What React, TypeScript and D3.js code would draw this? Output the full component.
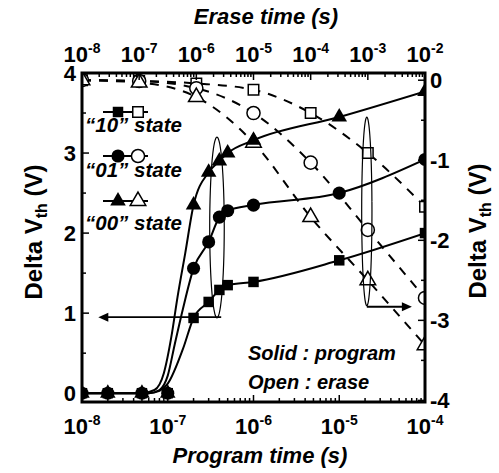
import React from 'react';
import * as d3 from 'd3';

// ---- Program (solid markers, bottom / left axes) ----
const programTimes = [1e-8, 2e-8, 5e-8, 1e-7, 2e-7, 3e-7, 4e-7, 5e-7, 1e-6, 1e-5, 1e-4];
const program10 = [0, 0, 0, 0, 0.94, 1.14, 1.29, 1.35, 1.39, 1.66, 2.0];
const program01 = [0, 0, 0, 0, 1.56, 1.89, 2.2, 2.28, 2.35, 2.5, 2.92];
const program00 = [0, 0, 0, 0, 2.35, 2.76, 2.9, 3.0, 3.16, 3.45, 3.77];

// Fitted program curves
const fit10Times = [1e-8, 6e-8, 8e-8, 1e-7, 1.5e-7, 2e-7, 3e-7, 4e-7, 5e-7, 1e-6, 1e-5, 1e-4];
const fit10Values = [0, 0, 0.03, 0.12, 0.55, 0.94, 1.14, 1.29, 1.35, 1.39, 1.66, 2.0];
const fit01Times = [1e-8, 6e-8, 8e-8, 1e-7, 1.2e-7, 1.5e-7, 2e-7, 3e-7, 4e-7, 5e-7, 1e-6, 1e-5, 1e-4];
const fit01Values = [0, 0, 0.04, 0.22, 0.6, 1.05, 1.56, 1.89, 2.2, 2.28, 2.35, 2.5, 2.92];
const fit00Times = [1e-8, 5e-8, 7e-8, 9e-8, 1.1e-7, 1.3e-7, 1.6e-7, 2e-7, 3e-7, 4e-7, 5e-7, 1e-6, 1e-5, 1e-4];
const fit00Values = [0, 0, 0.04, 0.25, 0.7, 1.2, 1.75, 2.35, 2.76, 2.9, 3.0, 3.16, 3.45, 3.77];

// ---- Erase (open markers, top / right axes) ----
const eraseTimes = [1e-8, 1e-7, 1e-6, 1e-5, 1e-4, 1e-3, 1e-2];
const erase10 = [0, -0.01, -0.04, -0.12, -0.41, -0.91, -1.58];
const erase01 = [0, -0.01, -0.1, -0.41, -1.03, -1.87, -2.72];
const erase00 = [0, -0.03, -0.21, -0.78, -1.71, -2.5, -3.31];

// ---- Axis ticks ----
const programDecades = [-8, -7, -6, -5, -4];
const eraseDecades = [-8, -7, -6, -5, -4, -3, -2];
const leftTicks = [0, 1, 2, 3, 4];
const rightTicks = [0, -1, -2, -3, -4];

const legendLabels = ['\u201C10\u201D state', '\u201C01\u201D state', '\u201C00\u201D state'];

const FONT = '"Liberation Sans", Arial, Helvetica, sans-serif';

export default function App() {
  const L = 82, R = 425, T = 73, B = 402;
  const xProg = d3.scaleLog().domain([1e-8, 1e-4]).range([L, R]);
  const xErase = d3.scaleLog().domain([1e-8, 1e-2]).range([L, R]);
  const yProg = d3.scaleLinear().domain([-0.11, 4]).range([B, T]);
  const yErase = d3.scaleLinear().domain([-4.02, 0.09]).range([B, T]);

  const minor = (decs: number[]) =>
    decs.slice(0, -1).flatMap((e) => d3.range(2, 10).map((k) => k * Math.pow(10, e)));
  const progMinor = minor(programDecades);
  const eraseMinor = minor(eraseDecades);

  const progLine = d3
    .line<[number, number]>()
    .x((d) => xProg(d[0]))
    .y((d) => yProg(d[1]))
    .curve(d3.curveMonotoneX);
  const eraseLine = d3
    .line<[number, number]>()
    .x((d) => xErase(d[0]))
    .y((d) => yErase(d[1]))
    .curve(d3.curveMonotoneX);

  const zip = (a: number[], b: number[]) => a.map((t, i) => [t, b[i]] as [number, number]);

  const symSquare = d3.symbol().type(d3.symbolSquare).size(110)() as string;
  const symCircle = d3.symbol().type(d3.symbolCircle).size(135)() as string;
  const symTriangle = d3.symbol().type(d3.symbolTriangle).size(105)() as string;
  const shapes = [symSquare, symCircle, symTriangle];

  const progSeries = [program10, program01, program00];
  const eraseSeries = [erase10, erase01, erase00];
  const fits = [
    zip(fit10Times, fit10Values),
    zip(fit01Times, fit01Values),
    zip(fit00Times, fit00Values),
  ];

  // Annotation loops (narrow ellipses around each curve group), in data units
  const loopPath = (
    xs: d3.ScaleLogarithmic<number, number>,
    ys: d3.ScaleLinear<number, number>,
    logCenter: number,
    logHalf: number,
    vCenter: number,
    vHalf: number
  ) => {
    const pts = d3.range(0, 361, 6).map((a) => {
      const r = (a * Math.PI) / 180;
      return [xs(Math.pow(10, logCenter + logHalf * Math.cos(r))), ys(vCenter + vHalf * Math.sin(r))] as [number, number];
    });
    return d3.line().curve(d3.curveBasisClosed)(pts) as string;
  };
  const leftLoop = loopPath(xProg, yProg, Math.log10(3.75e-7), 0.085, 2.07, 1.13);
  const rightLoop = loopPath(xErase, yErase, Math.log10(9.6e-4), 0.09, -1.64, 1.18);

  const leftArrowY = yProg(0.95);
  const leftArrowX1 = xProg(4.2e-7);
  const leftArrowX2 = xProg(1.55e-8);
  const rightArrowY = yErase(-2.83);
  const rightArrowX1 = xErase(9.6e-4);
  const rightArrowX2 = xErase(5.9e-3);

  const tickLabel = (exp: number) => (
    <>
      10<tspan fontSize={14} dy={-9}>{exp}</tspan>
    </>
  );

  return (
    <svg
      width={499}
      height={473}
      viewBox="0 0 499 473"
      style={{ position: 'absolute', left: 0, top: 0, background: '#fff' }}
      fontFamily={FONT}
    >
      <defs>
        <clipPath id="plot-clip">
          <rect x={L} y={T} width={R - L} height={B - T} />
        </clipPath>
      </defs>
      <rect x={0} y={0} width={499} height={473} fill="#fff" />

      <g clipPath="url(#plot-clip)">
        {/* erase fits */}
        {eraseSeries.map((s, i) => (
          <path
            key={'ef' + i}
            d={eraseLine(zip(eraseTimes, s)) as string}
            fill="none"
            stroke="#000"
            strokeWidth={2}
            strokeDasharray="9,8"
          />
        ))}
        {/* program fits */}
        {fits.map((f, i) => (
          <path key={'pf' + i} d={progLine(f) as string} fill="none" stroke="#000" strokeWidth={2} />
        ))}
        {/* open erase markers */}
        {eraseSeries.map((s, i) =>
          s.map((v, j) => (
            <path
              key={'em' + i + '-' + j}
              d={shapes[i]}
              transform={`translate(${xErase(eraseTimes[j])},${yErase(v)})`}
              fill="#fff"
              stroke="#000"
              strokeWidth={1.5}
            />
          ))
        )}
        {/* filled program markers */}
        {progSeries.map((s, i) =>
          s.map((v, j) => (
            <path
              key={'pm' + i + '-' + j}
              d={shapes[i]}
              transform={`translate(${xProg(programTimes[j])},${yProg(v)})`}
              fill="#000"
            />
          ))
        )}
        {/* annotations */}
        <path d={leftLoop} fill="none" stroke="#000" strokeWidth={1.2} />
        <path d={rightLoop} fill="none" stroke="#000" strokeWidth={1.2} />
        <line x1={leftArrowX1} y1={leftArrowY} x2={leftArrowX2 + 8} y2={leftArrowY} stroke="#000" strokeWidth={1.8} />
        <path d={`M${leftArrowX2},${leftArrowY} l10,-4.5 l0,9 z`} fill="#000" />
        <line x1={rightArrowX1} y1={rightArrowY} x2={rightArrowX2 - 8} y2={rightArrowY} stroke="#000" strokeWidth={1.8} />
        <path d={`M${rightArrowX2},${rightArrowY} l-10,-4.5 l0,9 z`} fill="#000" />
      </g>

      {/* legend */}
      {legendLabels.map((lab, i) => {
        const ly = [112, 156, 201][i];
        const ty = [132, 177, 230][i];
        return (
          <g key={'lg' + i}>
            <line x1={103} x2={148} y1={ly} y2={ly} stroke="#000" strokeWidth={2} />
            <path d={shapes[i]} transform={`translate(118,${ly})`} fill="#000" />
            <path d={shapes[i]} transform={`translate(138,${ly})`} fill="#fff" stroke="#000" strokeWidth={1.5} />
            <text x={85} y={ty} fontSize={20.5} fontWeight="bold" fontStyle="italic">
              {lab}
            </text>
          </g>
        );
      })}
      <text x={248} y={360} fontSize={20} fontWeight="bold" fontStyle="italic">
        Solid : program
      </text>
      <text x={248} y={389} fontSize={20} fontWeight="bold" fontStyle="italic">
        Open : erase
      </text>

      {/* frame */}
      <rect x={L} y={T} width={R - L} height={B - T} fill="none" stroke="#000" strokeWidth={3} />

      {/* bottom ticks */}
      {programDecades.map((e) => (
        <line key={'bM' + e} x1={xProg(Math.pow(10, e))} x2={xProg(Math.pow(10, e))} y1={B} y2={B - 7} stroke="#000" strokeWidth={1.5} />
      ))}
      {progMinor.map((t, i) => (
        <line key={'bm' + i} x1={xProg(t)} x2={xProg(t)} y1={B} y2={B - 4} stroke="#000" strokeWidth={1.5} />
      ))}
      {/* top ticks */}
      {eraseDecades.map((e) => (
        <line key={'tM' + e} x1={xErase(Math.pow(10, e))} x2={xErase(Math.pow(10, e))} y1={T} y2={T + 7} stroke="#000" strokeWidth={1.5} />
      ))}
      {eraseMinor.map((t, i) => (
        <line key={'tm' + i} x1={xErase(t)} x2={xErase(t)} y1={T} y2={T + 4} stroke="#000" strokeWidth={1.5} />
      ))}
      {/* left ticks */}
      {d3.range(0, 4.01, 0.5).map((v) => (
        <line key={'lt' + v} x1={L} x2={L + (v % 1 === 0 ? 7 : 4)} y1={yProg(v)} y2={yProg(v)} stroke="#000" strokeWidth={1.5} />
      ))}
      {/* right ticks */}
      {d3.range(0, 4.01, 0.5).map((v) => (
        <line key={'rt' + v} x1={R} x2={R - (v % 1 === 0 ? 7 : 4)} y1={yErase(-v)} y2={yErase(-v)} stroke="#000" strokeWidth={1.5} />
      ))}

      {/* tick labels */}
      {programDecades.map((e) => (
        <text key={'bl' + e} x={xProg(Math.pow(10, e))} y={434} fontSize={22} fontWeight="bold" textAnchor="middle">
          {tickLabel(e)}
        </text>
      ))}
      {eraseDecades.map((e) => (
        <text key={'tl' + e} x={xErase(Math.pow(10, e))} y={62} fontSize={22} fontWeight="bold" textAnchor="middle">
          {tickLabel(e)}
        </text>
      ))}
      {leftTicks.map((v) => (
        <text key={'ll' + v} x={76} y={yProg(v) + 8} fontSize={22} fontWeight="bold" textAnchor="end">
          {v}
        </text>
      ))}
      {rightTicks.map((v) => (
        <text key={'rl' + v} x={430} y={yErase(v) + 8} fontSize={22} fontWeight="bold" textAnchor="start">
          {v}
        </text>
      ))}

      {/* axis titles */}
      <text x={266} y={24} fontSize={22} fontWeight="bold" fontStyle="italic" textAnchor="middle">
        Erase time (s)
      </text>
      <text x={260} y={463} fontSize={22} fontWeight="bold" fontStyle="italic" textAnchor="middle">
        Program time (s)
      </text>
      <text transform="translate(42,232) rotate(-90)" fontSize={24} fontWeight="bold" textAnchor="middle">
        Delta V<tspan fontSize={16} dy={5}>th</tspan>
        <tspan dy={-5}> (V)</tspan>
      </text>
      <text transform="translate(486,231) rotate(-90)" fontSize={24} fontWeight="bold" textAnchor="middle">
        Delta V<tspan fontSize={16} dy={5}>th</tspan>
        <tspan dy={-5}> (V)</tspan>
      </text>
    </svg>
  );
}
